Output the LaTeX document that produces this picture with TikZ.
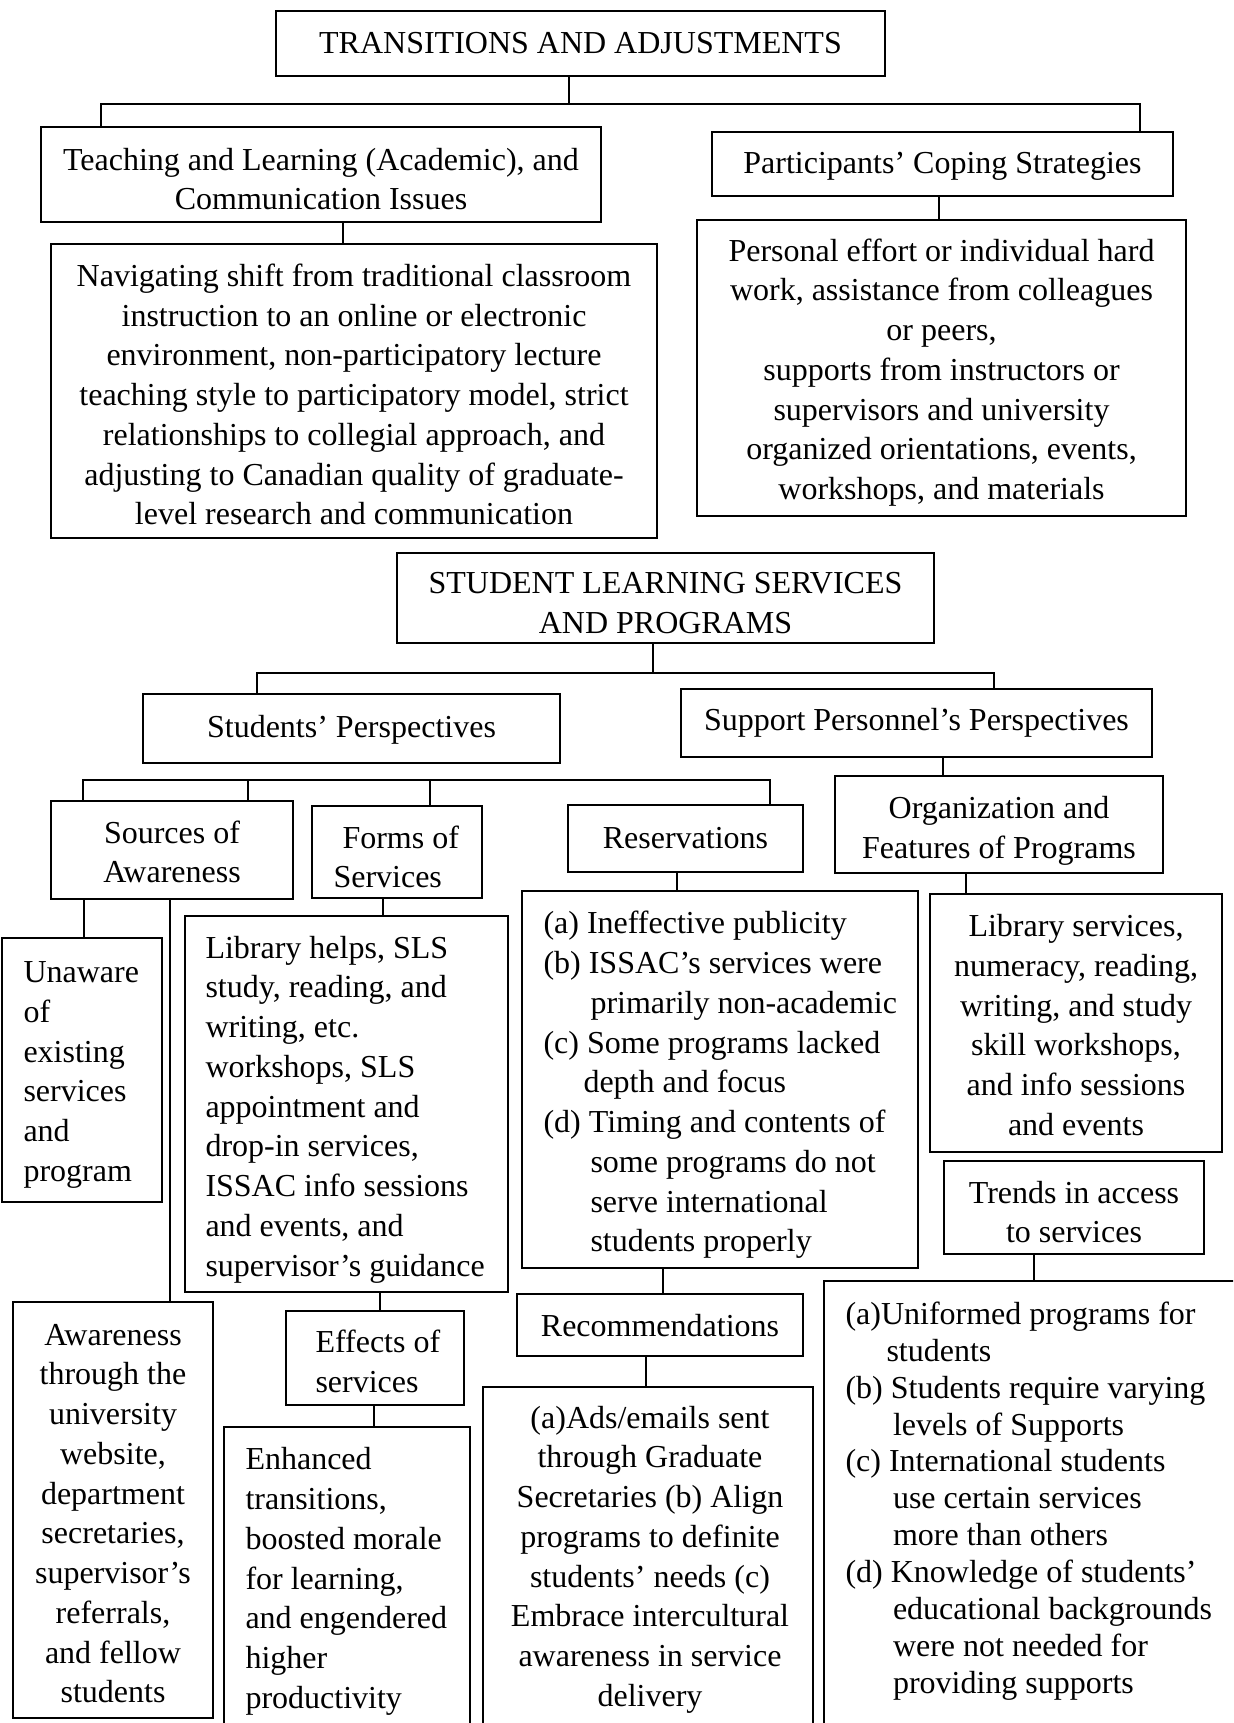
\documentclass[tikz,border=0pt]{standalone}
\usepackage{fontspec}
\setmainfont{Liberation Serif}
\newcommand\fz{\fontsize{12.8pt}{15.9pt}\selectfont}
\newcommand\fzt{\fontsize{12.8pt}{14.75pt}\selectfont}
\begin{document}
\begin{tikzpicture}[x=0.4pt,y=-0.4pt,
  box/.style={draw, line width=1.1pt, inner sep=0pt},
  txt/.style={inner sep=0pt, align=left, font=\fz},
  ctx/.style={inner sep=0pt, align=center, font=\fz},
  conn/.style={line width=0.5pt}]
\useasboundingbox (0,0) rectangle (1233,1723);
\clip (0,0) rectangle (1233,1723);

% ---- top section
\node[box, minimum width=243.6pt, minimum height=26pt] (ta) at (580.5,43.5) {};
\node[ctx] (taT) at (580.5,43) {TRANSITIONS AND ADJUSTMENTS};
\node[box, minimum width=224pt, minimum height=38pt] (teach) at (321,174.5) {};
\node[ctx] (teachT) at (321,179) {Teaching and Learning (Academic), and\\Communication Issues};
\node[box, minimum width=184.4pt, minimum height=25.6pt] (part) at (942.5,164) {};
\node[ctx] (partT) at (942.5,166) {Participants’ Coping Strategies};
\node[box, minimum width=242.4pt, minimum height=117.6pt] (nav) at (354,391) {};
\node[ctx] (navT) at (354,394.5) {Navigating shift from traditional classroom\\instruction to an online or electronic\\environment, non-participatory lecture\\teaching style to participatory model, strict\\relationships to collegial approach, and\\adjusting to Canadian quality of graduate-\\level research and communication};
\node[box, minimum width=195.6pt, minimum height=118.4pt] (cope) at (941.5,368) {};
\node[ctx] (copeT) at (941.5,372.5) {Personal effort or individual hard\\work, assistance from colleagues\\or peers,\\supports from instructors or\\supervisors and university\\organized orientations, events,\\workshops, and materials};

% ---- second section
\node[box, minimum width=214.8pt, minimum height=36pt] (sls) at (665.5,598) {};
\node[ctx] (slsT) at (665.5,603) {STUDENT LEARNING SERVICES\\AND PROGRAMS};
\node[box, minimum width=166.8pt, minimum height=27.6pt] (stud) at (351.5,728.5) {};
\node[ctx] (studT) at (351.5,729.5) {Students’ Perspectives};
\node[box, minimum width=188.4pt, minimum height=27.2pt] (supp) at (916.5,723) {};
\node[ctx] (suppT) at (916.5,723) {Support Personnel’s Perspectives};
\node[box, minimum width=96.8pt, minimum height=39.2pt] (src) at (172,850) {};
\node[ctx] (srcT) at (172,852) {Sources of\\Awareness};
\node[box, minimum width=68pt, minimum height=36.8pt] (forms) at (397,852) {};
\node[txt, anchor=west] (formsT) at (333,857) {\hspace*{3.6pt}Forms of\\Services};
\node[box, minimum width=94pt, minimum height=26.8pt] (resv) at (685.5,838.5) {};
\node[ctx] (resvT) at (685.5,838.5) {Reservations};
\node[box, minimum width=131.2pt, minimum height=38.8pt] (org) at (999,824.5) {};
\node[ctx] (orgT) at (999,830.5) {Organization and\\Features of Programs};

\node[box, minimum width=64pt, minimum height=105.6pt] (unaw) at (82,1070) {};
\node[txt, anchor=west] (unawT) at (23,1075) {Unaware\\of\\existing\\services\\and\\program};
\node[box, minimum width=129.2pt, minimum height=150.4pt] (libh) at (346.5,1104) {};
\node[txt, anchor=west] (libhT) at (205,1109.5) {Library helps, SLS\\study, reading, and\\writing, etc.\\workshops, SLS\\appointment and\\drop-in services,\\ISSAC info sessions\\and events, and\\supervisor’s guidance};
\node[box, minimum width=158.4pt, minimum height=150.8pt] (resl) at (720,1079.5) {};
\node[txt, anchor=west] (reslT) at (543,1085) {(a) Ineffective publicity\\(b) ISSAC’s services were\\\hspace*{18.8pt}primarily non-academic\\(c) Some programs lacked\\\hspace*{16pt}depth and focus\\(d) Timing and contents of\\\hspace*{18.8pt}some programs do not\\\hspace*{18.8pt}serve international\\\hspace*{18.8pt}students properly};
\node[box, minimum width=116.8pt, minimum height=103.2pt] (libs) at (1076,1023) {};
\node[ctx] (libsT) at (1076,1025) {Library services,\\numeracy, reading,\\writing, and study\\skill workshops,\\and info sessions\\and events};
\node[box, minimum width=104pt, minimum height=37.2pt] (trend) at (1074,1207.5) {};
\node[ctx] (trendT) at (1074,1212) {Trends in access\\to services};

\node[box, minimum width=80pt, minimum height=166.4pt] (aware) at (113,1510) {};
\node[ctx] (awareT) at (113,1513.5) {Awareness\\through the\\university\\website,\\department\\secretaries,\\supervisor’s\\referrals,\\and fellow\\students};
\node[box, minimum width=71.2pt, minimum height=37.6pt] (eff) at (375,1358) {};
\node[txt, anchor=west] (effT) at (315,1361.5) {Effects of\\services};
\node[box, minimum width=98.4pt, minimum height=119.2pt] (enh) at (347,1576) {};
\node[txt, anchor=west] (enhT) at (245,1581.5) {Enhanced\\transitions,\\boosted morale\\for learning,\\and engendered\\higher\\productivity};
\node[box, minimum width=114.4pt, minimum height=24.8pt] (rec) at (660,1325) {};
\node[ctx] (recT) at (660,1326) {Recommendations};
\node[box, minimum width=132pt, minimum height=135.2pt] (ads) at (648,1556) {};
\node[ctx] (adsT) at (650,1559.5) {(a)Ads/emails sent\\through Graduate\\Secretaries (b) Align\\programs to definite\\students’ needs (c)\\Embrace intercultural\\awareness in service\\delivery};
\node[box, minimum width=170.4pt, minimum height=177.6pt] (trl) at (1037,1503) {};
\node[txt, font=\fzt, anchor=west] (trlT) at (845,1501) {(a)Uniformed programs for\\\hspace*{16.4pt}students\\(b) Students require varying\\\hspace*{19pt}levels of Supports\\(c) International students\\\hspace*{19pt}use certain services\\\hspace*{19pt}more than others\\(d) Knowledge of students’\\\hspace*{19pt}educational backgrounds\\\hspace*{19pt}were not needed for\\\hspace*{19pt}providing supports};

% ---- connectors
\coordinate (b1) at (569,104);
\coordinate (xL1) at (101,104);
\coordinate (xR1) at (1140,104);
\draw[conn] (ta.south -| b1) -- (b1);
\draw[conn] (teach.north -| xL1) -- (xL1) -- (xR1) -- (part.north -| xR1);
\coordinate (c1) at (343,0);
\coordinate (c2) at (939,0);
\draw[conn] (teach.south -| c1) -- (nav.north -| c1);
\draw[conn] (part.south -| c2) -- (cope.north -| c2);

\coordinate (b2) at (653,673);
\coordinate (xL2) at (257,673);
\coordinate (xR2) at (994,673);
\draw[conn] (sls.south -| b2) -- (b2);
\draw[conn] (stud.north -| xL2) -- (xL2) -- (xR2) -- (supp.north -| xR2);
\coordinate (c3) at (943,0);
\draw[conn] (supp.south -| c3) -- (org.north -| c3);

\coordinate (s1) at (83,780);
\coordinate (s2) at (248,780);
\coordinate (s3) at (430,780);
\coordinate (s4) at (770,780);
\draw[conn] (src.north -| s1) -- (s1) -- (s4) -- (resv.north -| s4);
\draw[conn] (s2) -- (src.north -| s2);
\draw[conn] (s3) -- (forms.north -| s3);

\coordinate (c4) at (84,0);
\coordinate (c5) at (170,0);
\coordinate (c6) at (383,0);
\coordinate (c7) at (380,0);
\coordinate (c8) at (374,0);
\coordinate (c9) at (677,0);
\coordinate (c10) at (663,0);
\coordinate (c11) at (646,0);
\coordinate (c12) at (966,0);
\coordinate (c13) at (1034,0);
\draw[conn] (src.south -| c4) -- (unaw.north -| c4);
\draw[conn] (src.south -| c5) -- (aware.north -| c5);
\draw[conn] (forms.south -| c6) -- (libh.north -| c6);
\draw[conn] (libh.south -| c7) -- (eff.north -| c7);
\draw[conn] (eff.south -| c8) -- (enh.north -| c8);
\draw[conn] (resv.south -| c9) -- (resl.north -| c9);
\draw[conn] (resl.south -| c10) -- (rec.north -| c10);
\draw[conn] (rec.south -| c11) -- (ads.north -| c11);
\draw[conn] (org.south -| c12) -- (libs.north -| c12);
\draw[conn] (trend.south -| c13) -- (trl.north -| c13);
\end{tikzpicture}
\end{document}
